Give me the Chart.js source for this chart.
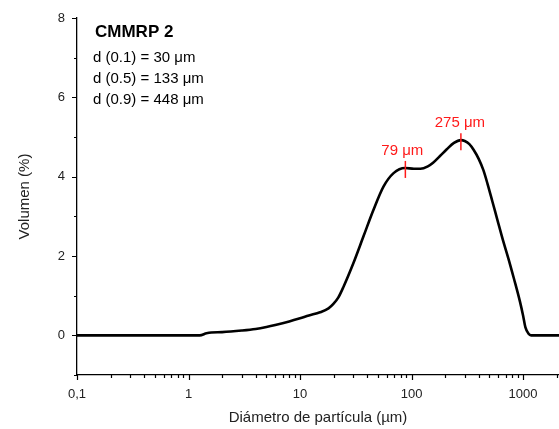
<!DOCTYPE html>
<html>
<head>
<meta charset="utf-8">
<script src="https://cdn.jsdelivr.net/npm/chart.js@4"></script>
<style>
  html, body { margin: 0; padding: 0; background: #fff; }
  #wrap { width: 559px; height: 429px; }
</style>
</head>
<body>
<div id="wrap"><canvas id="psd"></canvas></div>
<script>
// particle size distribution
const diameters = [0.1, 1.26, 1.45, 1.6, 2, 3, 4, 5, 6, 8, 10, 12, 15.1, 18, 20, 22, 24.5, 30, 37, 45.5,
  56, 69, 87.5, 105, 120, 140, 156, 180, 207, 240, 277, 300, 330, 360, 400, 440, 480, 530, 590, 660,
  740, 830, 938, 1000, 1050, 1120, 1180, 2100];
const volumes = [0, 0, 0.05, 0.07, 0.08, 0.12, 0.16, 0.21, 0.26, 0.35, 0.43, 0.5, 0.58, 0.68, 0.8, 0.95, 1.22, 1.81, 2.49, 3.16,
  3.75, 4.09, 4.22, 4.2, 4.2, 4.26, 4.35, 4.52, 4.69, 4.85, 4.92, 4.9, 4.82, 4.68, 4.45, 4.17, 3.82, 3.38, 2.9, 2.4,
  1.93, 1.42, 0.85, 0.5, 0.2, 0.04, 0, 0];

const xLabelValues = [0.1, 1, 10, 100, 1000];
const yLabelValues = [0, 2, 4, 6, 8];

const sampleName = "CMMRP 2";
const dLines = ["d (0.1) = 30 \u03bcm", "d (0.5) = 133 \u03bcm", "d (0.9) = 448 \u03bcm"];

// peak markers: where the mark sits on the curve, and its text
const peakX = [88, 277];
const peakY = [4.22, 4.92];
const peakText = ["79 \u03bcm", "275 \u03bcm"];

const FONT = "Arial, 'Liberation Sans', sans-serif";

const overlay = {
  id: "overlay",
  afterDraw(chart) {
    const ctx = chart.ctx;
    const xs = chart.scales.x, ys = chart.scales.y;
    const area = chart.chartArea;
    ctx.save();

    // tick marks, outward
    ctx.strokeStyle = "#000";
    ctx.lineWidth = 1.2;
    ctx.beginPath();
    for (let e = -1; e <= 3; e++) {
      for (let m = 1; m <= 9; m++) {
        const v = m * Math.pow(10, e);
        if (v > xs.max) break;
        const px = Math.round(xs.getPixelForValue(v)) + 0.5;
        const len = m === 1 ? 5 : 3;
        ctx.moveTo(px, area.bottom);
        ctx.lineTo(px, area.bottom + len);
      }
    }
    for (let v = -1; v <= 8; v++) {
      const py = Math.round(ys.getPixelForValue(v)) + 0.5;
      const len = (v >= 0 && v % 2 === 0) ? 5 : 3;
      ctx.moveTo(area.left, py);
      ctx.lineTo(area.left - len, py);
    }
    ctx.stroke();

    // axis titles
    ctx.fillStyle = "#222";
    ctx.font = "15px " + FONT;
    ctx.textAlign = "center";
    ctx.textBaseline = "middle";
    ctx.fillText("Di\u00e1metro de part\u00edcula (\u00b5m)", (area.left + area.right) / 2, 418);
    ctx.save();
    ctx.translate(25, (area.top + area.bottom) / 2);
    ctx.rotate(-Math.PI / 2);
    ctx.fillText("Volumen (%)", 0, 0);
    ctx.restore();

    // sample text block
    ctx.textAlign = "left";
    ctx.fillStyle = "#000";
    ctx.font = "bold 17px " + FONT;
    ctx.fillText(sampleName, 95, 32);
    ctx.font = "15px " + FONT;
    dLines.forEach((t, i) => ctx.fillText(t, 93, 58 + i * 21));

    // red peak marks
    ctx.strokeStyle = "#ff1a1a";
    ctx.fillStyle = "#ff1a1a";
    ctx.lineWidth = 1.5;
    ctx.textAlign = "center";
    ctx.font = "15px " + FONT;
    peakX.forEach((v, i) => {
      const px = xs.getPixelForValue(v);
      const py = ys.getPixelForValue(peakY[i]);
      ctx.beginPath();
      ctx.moveTo(px, py - 7);
      ctx.lineTo(px, py + 10);
      ctx.stroke();
      ctx.fillText(peakText[i], px - (i === 0 ? 3 : 1), py - 17);
    });
    ctx.restore();
  }
};

new Chart(document.getElementById("psd"), {
  type: "line",
  data: {
    datasets: [{
      data: diameters.map((d, i) => ({ x: d, y: volumes[i] })),
      borderColor: "#000",
      borderWidth: 2.6,
      pointRadius: 0,
      cubicInterpolationMode: "monotone",
      fill: false,
    }],
  },
  options: {
    responsive: true,
    maintainAspectRatio: false,
    animation: false,
    layout: { padding: { top: 18, right: 0, left: 0, bottom: 0 } },
    plugins: { legend: { display: false }, tooltip: { enabled: false } },
    scales: {
      x: {
        type: "logarithmic",
        min: 0.1,
        max: 2100,
        grid: { display: false },
        border: { display: true, color: "#000", width: 1.3 },
        afterFit(scale) { scale.height = 54; },
        afterBuildTicks(scale) {
          scale.ticks = xLabelValues.map((v) => ({ value: v }));
        },
        ticks: {
          autoSkip: false,
          maxRotation: 0,
          padding: 4,
          color: "#222",
          font: { size: 13, family: FONT },
          callback: (v) => (v === 0.1 ? "0,1" : String(v)),
        },
      },
      y: {
        min: -1,
        max: 8,
        grid: { display: false },
        border: { display: true, color: "#000", width: 1.3 },
        afterFit(scale) { scale.width = 77; },
        afterBuildTicks(scale) {
          scale.ticks = yLabelValues.map((v) => ({ value: v }));
        },
        ticks: {
          padding: 4,
          color: "#222",
          font: { size: 13, family: FONT },
        },
      },
    },
  },
  plugins: [overlay],
});
</script>
</body>
</html>
